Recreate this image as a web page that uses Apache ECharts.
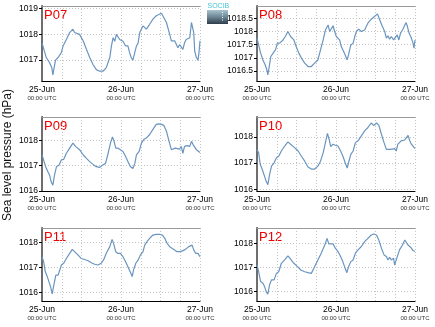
<!DOCTYPE html>
<html><head><meta charset="utf-8">
<script src="https://cdn.jsdelivr.net/npm/echarts@6/dist/echarts.min.js"></script>
<style>html,body{margin:0;padding:0;background:#fff}#c{width:435px;height:327px}</style>
</head><body><div id="c"></div>
<script>
// ---- tick labels / text ----
const dayLabels = ['25-Jun', '26-Jun', '27-Jun'];
const dayHours = [0, 24, 48];
const timeLabel = '00:00 UTC';
const yTitle = 'Sea level pressure (hPa)';
const stations = ['P07', 'P08', 'P09', 'P10', 'P11', 'P12'];

// ---- data: hours since 25-Jun 00:00 UTC, sea level pressure (hPa) ----
const P07_hours = [0,0.5,1.3,2.3,3.0,3.3,4.1,4.9,5.9,6.4,7.4,8.4,9.4,9.9,11.4,12.5,13.5,14.5,15.5,16.5,17.5,18.5,19.5,20.6,21.1,21.6,22.1,22.6,23.1,23.6,24.6,25.4,26.1,26.6,27.1,27.6,28.2,28.7,29.2,29.7,30.7,31.7,32.7,33.7,34.7,35.2,36.3,36.8,37.8,38.8,39.3,40.3,41.3,41.8,42.3,42.8,43.3,43.8,44.9,45.4,45.7,46.1,46.4,46.9,47.4,47.7,48.0];
const P07_hPa = [1017.67,1017.67,1017.10,1016.90,1016.70,1016.43,1017.00,1017.10,1017.30,1017.55,1017.80,1018.07,1018.20,1018.07,1018.00,1017.75,1017.42,1017.10,1016.83,1016.63,1016.57,1016.57,1016.70,1017.10,1017.55,1017.87,1017.73,1018.00,1018.07,1017.80,1017.73,1017.55,1017.55,1017.30,1017.10,1017.00,1017.30,1017.55,1017.67,1018.07,1018.33,1018.20,1018.39,1018.59,1018.72,1018.78,1018.82,1018.78,1018.46,1018.00,1017.75,1017.75,1017.48,1017.60,1017.55,1017.42,1017.67,1017.80,1017.87,1018.46,1018.52,1018.07,1017.35,1017.10,1017.00,1017.30,1017.75];

const P08_hours = [0,0.5,1.1,1.8,2.5,3.0,3.3,3.8,4.2,4.9,5.6,6.2,6.9,7.9,8.6,9.4,10.2,11.2,11.9,12.7,13.5,14.5,15.5,16.5,17.5,18.5,19.3,20.1,20.8,21.6,22.1,22.6,23.1,23.6,24.1,25.1,25.6,26.1,26.8,27.4,27.8,28.5,29.2,29.7,30.2,30.9,31.7,32.7,33.7,34.7,35.7,36.6,37.3,38.1,38.8,39.3,39.8,40.3,40.8,41.5,42.1,42.6,43.1,43.6,44.2,44.7,45.3,45.7,46.2,46.9,47.4,47.7,48.0];
const P08_hPa = [1017.75,1017.68,1017.18,1016.92,1016.73,1016.54,1016.35,1016.73,1017.05,1017.18,1017.30,1017.56,1017.56,1017.68,1017.81,1018.00,1017.81,1017.68,1017.43,1017.18,1016.99,1016.80,1016.67,1016.67,1016.80,1016.92,1017.30,1017.68,1018.06,1018.25,1018.00,1018.00,1018.22,1018.00,1017.81,1017.68,1017.43,1017.37,1017.11,1016.92,1017.11,1017.49,1017.56,1017.81,1018.00,1018.09,1018.00,1018.06,1018.32,1018.47,1018.57,1018.67,1018.44,1018.19,1018.00,1017.75,1017.84,1017.71,1017.81,1017.68,1017.62,1017.87,1017.68,1017.94,1018.06,1018.19,1018.34,1018.19,1017.94,1017.75,1017.56,1017.37,1017.68];

const P09_hours = [0,0.5,1.1,1.8,2.3,2.8,3.3,3.8,4.4,5.2,5.9,6.6,7.4,8.4,9.4,10.2,11.4,12.5,13.5,14.5,15.5,16.5,17.5,18.5,19.3,20.1,20.8,21.4,21.9,22.4,23.1,23.8,24.6,25.4,26.1,26.9,27.6,28.2,28.7,29.5,30.2,30.9,31.7,32.7,33.7,34.7,35.5,36.3,37.0,37.8,38.6,39.3,39.8,40.5,41.1,41.8,42.3,42.8,43.3,44.1,44.9,45.4,45.9,46.4,46.9,47.4,48.0];
const P09_hPa = [1017.43,1017.49,1016.96,1016.76,1016.63,1016.36,1016.23,1016.63,1016.96,1017.03,1017.23,1017.25,1017.49,1017.69,1017.89,1017.76,1017.63,1017.43,1017.29,1017.16,1017.05,1016.96,1016.93,1017.03,1017.09,1017.49,1017.89,1018.13,1017.96,1017.69,1017.69,1017.63,1017.56,1017.36,1017.16,1016.96,1016.89,1017.09,1017.43,1017.56,1017.89,1018.03,1018.09,1018.23,1018.43,1018.63,1018.65,1018.63,1018.59,1018.36,1017.96,1017.63,1017.56,1017.69,1017.76,1017.65,1017.76,1017.49,1017.76,1017.79,1017.76,1017.96,1017.83,1017.76,1017.63,1017.56,1017.52];

const P10_hours = [0,0.5,1.0,1.6,2.3,2.8,3.3,3.8,4.4,5.2,5.9,6.6,7.4,8.4,9.4,10.2,11.4,12.5,13.5,14.5,15.5,16.5,17.5,18.5,19.3,20.1,20.9,21.4,21.9,22.4,23.1,23.8,24.6,25.4,26.1,26.8,27.4,27.8,28.5,29.2,29.9,30.7,31.7,32.7,33.7,34.7,35.5,36.3,37.0,37.8,38.6,39.3,39.8,40.5,41.1,41.8,42.3,42.8,43.3,43.8,44.4,44.9,45.4,45.9,46.4,46.9,47.4,48.0];
const P10_hPa = [1017.52,1017.39,1016.94,1016.75,1016.49,1016.30,1016.17,1016.55,1016.88,1017.01,1017.20,1017.26,1017.46,1017.65,1017.81,1017.72,1017.59,1017.46,1017.26,1017.07,1016.85,1016.77,1016.77,1016.88,1017.07,1017.39,1017.85,1018.13,1017.91,1017.63,1017.72,1017.68,1017.65,1017.46,1017.26,1017.01,1016.81,1017.01,1017.33,1017.46,1017.78,1017.85,1018.04,1018.23,1018.36,1018.53,1018.43,1018.53,1018.45,1018.10,1017.78,1017.52,1017.46,1017.52,1017.46,1017.55,1017.46,1017.72,1017.78,1017.85,1017.78,1017.88,1017.97,1018.06,1017.85,1017.72,1017.65,1017.55];

const P11_hours = [0,0.5,1.0,1.6,2.1,2.6,3.1,3.6,4.2,4.9,5.4,5.9,6.6,7.4,8.4,9.2,9.9,10.9,11.9,13.0,14.0,15.0,16.0,17.0,18.0,18.7,19.5,20.6,21.3,21.8,22.4,23.1,23.8,24.6,25.4,26.1,26.8,27.4,27.8,28.5,29.2,29.9,30.7,31.2,31.9,32.7,33.7,34.7,35.7,36.6,37.3,38.0,38.8,39.6,40.3,41.0,41.6,42.1,42.6,43.3,43.8,44.6,45.1,45.6,46.1,46.7,47.4,48.0];
const P11_hPa = [1017.43,1017.23,1016.83,1016.64,1016.44,1016.24,1015.95,1016.30,1016.70,1016.70,1016.90,1017.10,1017.17,1017.36,1017.56,1017.72,1017.63,1017.50,1017.36,1017.32,1017.27,1017.19,1017.13,1017.10,1017.17,1017.30,1017.56,1017.83,1018.12,1017.93,1017.63,1017.56,1017.56,1017.43,1017.23,1017.03,1016.83,1016.64,1016.90,1017.17,1017.30,1017.50,1017.63,1017.89,1018.03,1018.16,1018.29,1018.32,1018.32,1018.29,1018.16,1017.96,1017.83,1017.76,1017.70,1017.63,1017.59,1017.63,1017.56,1017.70,1017.76,1017.83,1017.76,1017.89,1017.70,1017.56,1017.56,1017.43];

const P12_hours = [0,0.5,1.1,1.8,2.3,2.8,3.3,3.8,4.4,5.2,5.9,6.6,7.4,8.4,9.4,10.2,11.2,12.3,13.3,14.5,15.5,16.5,17.5,18.5,19.5,20.6,21.3,21.8,22.4,23.1,23.8,24.6,25.4,26.1,26.8,27.3,27.8,28.5,29.2,29.9,30.7,31.7,32.7,33.7,34.7,35.5,36.3,37.0,37.8,38.6,39.3,39.8,40.3,40.8,41.5,41.8,42.3,42.8,43.3,43.6,44.2,44.9,45.4,45.9,46.4,46.9,47.4,48.0];
const P12_hPa = [1017.11,1016.83,1016.42,1016.35,1016.21,1016.00,1015.90,1016.28,1016.49,1016.49,1016.76,1016.83,1017.18,1017.32,1017.49,1017.35,1017.18,1017.04,1016.90,1016.83,1016.79,1016.76,1017.04,1017.32,1017.60,1017.94,1018.22,1017.99,1017.94,1017.99,1017.81,1017.67,1017.46,1017.24,1016.96,1016.79,1017.03,1017.25,1017.32,1017.60,1017.74,1017.88,1018.08,1018.22,1018.36,1018.40,1018.36,1018.15,1017.81,1017.53,1017.46,1017.32,1017.43,1017.32,1017.39,1017.11,1017.32,1017.53,1017.74,1017.67,1017.94,1018.15,1018.18,1017.94,1017.94,1017.81,1017.71,1017.67];

// ---- y tick labels and axis extents ----
const P07_ticks = [1017, 1018, 1019];
const P08_ticks = [1016.5, 1017, 1017.5, 1018, 1018.5];
const P09_ticks = [1016, 1017, 1018];
const P10_ticks = [1016, 1017, 1018];
const P11_ticks = [1016, 1017, 1018];
const P12_ticks = [1016, 1017, 1018];
const P07_range = [1016.19, 1019.1];
const P08_range = [1016.12, 1018.97];
const P09_range = [1016.0, 1018.92];
const P10_range = [1015.93, 1018.76];
const P11_range = [1015.67, 1018.57];
const P12_range = [1015.61, 1018.65];

const panels = [
  {name: 'P07', t: P07_hours, v: P07_hPa, ticks: P07_ticks, range: P07_range},
  {name: 'P08', t: P08_hours, v: P08_hPa, ticks: P08_ticks, range: P08_range},
  {name: 'P09', t: P09_hours, v: P09_hPa, ticks: P09_ticks, range: P09_range},
  {name: 'P10', t: P10_hours, v: P10_hPa, ticks: P10_ticks, range: P10_range},
  {name: 'P11', t: P11_hours, v: P11_hPa, ticks: P11_ticks, range: P11_range},
  {name: 'P12', t: P12_hours, v: P12_hPa, ticks: P12_ticks, range: P12_range}
];

// ---- layout ----
const colLeft = [42, 257];
const rowTop = [6, 117, 228];
const rowH = [75, 74, 73];
const panelW = 158;
const FONT = "'Liberation Sans', Arial, Helvetica, sans-serif";
const gridLineStyle = {color: '#c4c4c4', width: 1, type: [1, 2]};
const lineColor = '#6a95bf';

const grids = [], xAxes = [], yAxes = [], series = [], graphics = [];
panels.forEach((p, i) => {
  const c = i % 2, r = Math.floor(i / 2);
  grids.push({left: colLeft[c], top: rowTop[r], width: panelW, height: rowH[r], containLabel: false});
  xAxes.push({
    gridIndex: i, type: 'value', min: 0, max: 48, interval: 6,
    axisLine: {show: true, lineStyle: {color: '#000', width: 1}},
    axisTick: {show: false},
    splitLine: {show: true, lineStyle: gridLineStyle},
    axisLabel: {
      customValues: dayHours, margin: 4, fontFamily: FONT,
      formatter: v => {
        const k = dayHours.indexOf(Math.round(v));
        return k < 0 ? '' : '{a|' + dayLabels[k] + '}\n{b|' + timeLabel + '}';
      },
      rich: {
        a: {fontSize: 8.5, lineHeight: 9, color: '#000', fontFamily: FONT},
        b: {fontSize: 6, lineHeight: 9, color: '#333', fontFamily: FONT}
      }
    }
  });
  xAxes.push({
    gridIndex: i, type: 'value', position: 'top', min: 0, max: 48,
    axisLine: {show: true, lineStyle: {color: '#9a9a9a', width: 1}},
    axisTick: {show: false}, axisLabel: {show: false}, splitLine: {show: false}
  });
  yAxes.push({
    gridIndex: i, type: 'value', min: p.range[0], max: p.range[1],
    axisLine: {show: true, lineStyle: {color: '#000', width: 1}},
    axisTick: {show: true, customValues: p.ticks, length: 3, lineStyle: {color: '#000'}},
    splitLine: {show: true, lineStyle: gridLineStyle},
    axisLabel: {customValues: p.ticks, formatter: v => String(v), fontSize: 8.5, color: '#000', margin: 4, fontFamily: FONT}
  });
  yAxes.push({
    gridIndex: i, type: 'value', position: 'right', min: p.range[0], max: p.range[1],
    axisLine: {show: true, lineStyle: {color: '#6e6e6e', width: 2}},
    axisTick: {show: false}, axisLabel: {show: false}, splitLine: {show: false}
  });
  const n = Math.min(p.t.length, p.v.length);
  const data = [];
  for (let k = 0; k < n; k++) data.push([p.t[k], p.v[k]]);
  series.push({
    type: 'line', name: p.name, xAxisIndex: 2 * i, yAxisIndex: 2 * i, data,
    showSymbol: false, symbol: 'none', smooth: false,
    lineStyle: {color: lineColor, width: 1.2}, clip: true, animation: false
  });
  graphics.push({
    type: 'text', left: colLeft[c] + 2, top: rowTop[r] + 2.5,
    style: {text: p.name, fill: '#ee0000', font: '13px ' + FONT}
  });
});

// y axis title
graphics.push({
  type: 'text', x: 8, y: 155, rotation: Math.PI / 2,
  style: {text: yTitle, fill: '#111', font: '12px ' + FONT, align: 'center', verticalAlign: 'middle'}
});
// small SOCIB logo
graphics.push({
  type: 'group', left: 207, top: 3,
  children: [
    {type: 'text', x: 0.5, y: 0, style: {text: 'SOCIB', fill: '#45c3da', font: '7px ' + FONT}},
    {type: 'rect', shape: {x: 0, y: 7, width: 21, height: 14},
     style: {fill: new echarts.graphic.LinearGradient(0, 0, 0, 1, [
       {offset: 0, color: '#a9c3cf'}, {offset: 0.5, color: '#6c8595'}, {offset: 1, color: '#2f3d4a'}])}},
    {type: 'line', shape: {x1: 15.5, y1: 9, x2: 15.5, y2: 19},
     style: {stroke: '#ffffff', lineWidth: 1, lineDash: [1, 1.5]}}
  ]
});

const chart = echarts.init(document.getElementById('c'), null, {renderer: 'canvas'});
chart.setOption({
  animation: false,
  backgroundColor: '#ffffff',
  textStyle: {fontFamily: FONT},
  grid: grids, xAxis: xAxes, yAxis: yAxes, series, graphic: graphics
});
</script></body></html>
